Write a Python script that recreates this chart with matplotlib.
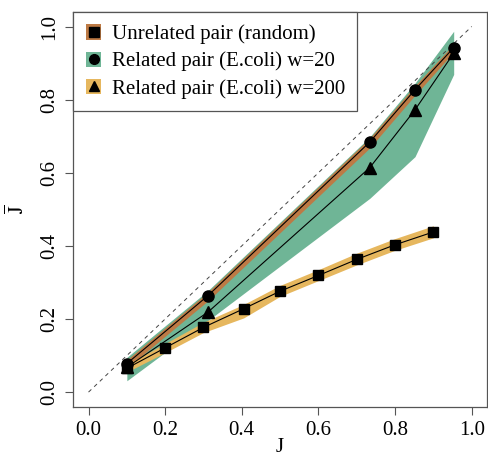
import matplotlib
matplotlib.use("Agg")
import matplotlib.pyplot as plt
from matplotlib.patches import Patch
from matplotlib.lines import Line2D

plt.rcParams['font.family'] = ['Liberation Serif', 'DejaVu Serif']
plt.rcParams['mathtext.fontset'] = 'stix'

# Unrelated pair (random) -- squares
x_rand = [0.1, 0.2, 0.3, 0.405, 0.5, 0.6, 0.7, 0.8, 0.9]
y_rand = [0.065, 0.121, 0.177, 0.228, 0.276, 0.319, 0.363, 0.403, 0.438]
lo_rand = [0.055, 0.108, 0.163, 0.203, 0.262, 0.305, 0.348, 0.388, 0.422]
hi_rand = [0.076, 0.133, 0.191, 0.240, 0.292, 0.335, 0.380, 0.420, 0.455]

# Related pair w=20 -- circles
x_w20 = [0.1, 0.312, 0.734, 0.852, 0.953]
y_w20 = [0.078, 0.264, 0.684, 0.827, 0.942]
lo_w20 = [0.066, 0.250, 0.668, 0.812, 0.930]
hi_w20 = [0.088, 0.274, 0.695, 0.838, 0.952]

# Related pair w=200 -- triangles
x_w200 = [0.1, 0.312, 0.734, 0.852, 0.953]
y_w200 = [0.068, 0.219, 0.614, 0.772, 0.927]
lo_w200 = [0.031, 0.196, 0.530, 0.644, 0.869]
hi_w200 = [0.095, 0.278, 0.698, 0.845, 0.987]

labels = ["Unrelated pair (random)", "Related pair (E.coli) w=20",
          "Related pair (E.coli) w=200"]
ticks = [0.0, 0.2, 0.4, 0.6, 0.8, 1.0]
tick_labels = ["0.0", "0.2", "0.4", "0.6", "0.8", "1.0"]

c_brown = "#bd7a45"
c_green = "#6fb596"
c_yellow = "#e6b75e"

fig = plt.figure(figsize=(4.88, 4.57), dpi=100)
ax = fig.add_axes([0.150, 0.110, 0.848, 0.864])

ax.fill_between(x_w200, lo_w200, hi_w200, color=c_green, lw=0, zorder=1)
ax.fill_between(x_w20, lo_w20, hi_w20, color=c_brown, lw=0, zorder=2)
ax.fill_between(x_rand, lo_rand, hi_rand, color=c_yellow, lw=0, zorder=2)

ax.plot([0, 1], [0, 1], ls=(0, (4, 4)), color="#444444", lw=0.7, zorder=3)

ax.plot(x_rand, y_rand, color="black", lw=0.8, marker="s", ms=7.5, zorder=4)
ax.plot(x_w20, y_w20, color="black", lw=0.8, marker="o", ms=8, zorder=4)
ax.plot(x_w200, y_w200, color="black", lw=0.8, marker="^", ms=8.5, zorder=4)

ax.set_xlim(-0.04, 1.04)
ax.set_ylim(-0.04, 1.04)
ax.set_xticks(ticks)
ax.set_xticklabels(tick_labels)
ax.set_yticks(ticks)
ax.set_yticklabels(tick_labels, rotation=90, va="center")
ax.tick_params(direction="out", length=6, width=0.8, labelsize=15,
               color="#555555", pad=4)
for s in ax.spines.values():
    s.set_color("#555555")
    s.set_linewidth(0.9)

ax.set_ylabel(r"$\overline{\mathrm{J}}$", fontsize=15, labelpad=8)
fig.text(0.150 + 0.848 * (0.5 + 0.04) / 1.08, 0.0, "J", fontsize=15,
         ha="center", va="bottom")

handles = [
    (Patch(facecolor=c_brown, edgecolor="none"),
     Line2D([], [], color="black", marker="s", ms=6.5, ls="none")),
    (Patch(facecolor=c_green, edgecolor="none"),
     Line2D([], [], color="black", marker="o", ms=7, ls="none")),
    (Patch(facecolor=c_yellow, edgecolor="none"),
     Line2D([], [], color="black", marker="^", ms=7.5, ls="none")),
]
leg = ax.legend(handles, labels, loc="upper left", bbox_to_anchor=(0, 1),
                fontsize=15, frameon=True, fancybox=False, framealpha=1,
                edgecolor="#555555", handlelength=0.75, handleheight=0.75,
                handletextpad=0.5, labelspacing=0.35, borderpad=0.6,
                borderaxespad=0)
leg.get_frame().set_linewidth(0.9)
leg.set_zorder(10)

fig.savefig("out.png", dpi=100)
